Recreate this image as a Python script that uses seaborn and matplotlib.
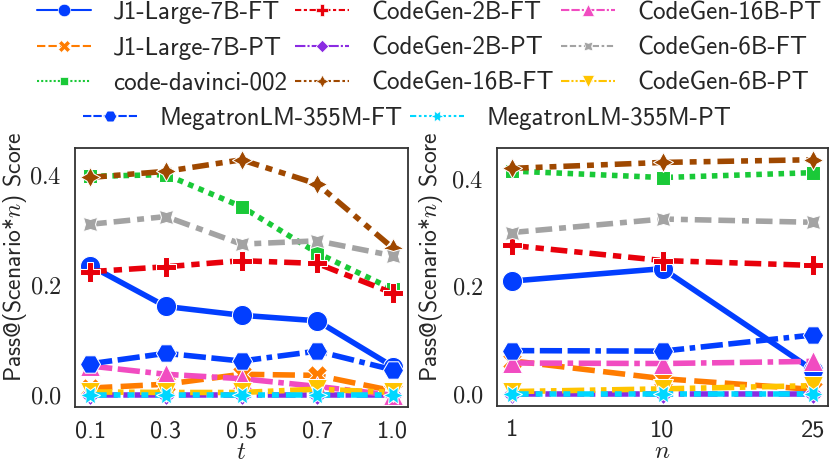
import matplotlib
matplotlib.use("Agg")
import matplotlib.pyplot as plt
import seaborn as sns
import pandas as pd
from matplotlib.lines import Line2D
from matplotlib.ticker import FuncFormatter

# ---------------- data ----------------
models = ["J1-Large-7B-FT", "J1-Large-7B-PT", "code-davinci-002",
          "CodeGen-2B-FT", "CodeGen-2B-PT", "CodeGen-16B-FT",
          "CodeGen-16B-PT", "CodeGen-6B-FT", "CodeGen-6B-PT",
          "MegatronLM-355M-PT", "MegatronLM-355M-FT"]

t_labels = ["0.1", "0.3", "0.5", "0.7", "1.0"]
n_labels = ["1", "10", "25"]

# Pass@(Scenario*n) score vs temperature t
t_j1_ft = [0.235, 0.161, 0.145, 0.135, 0.052]
t_j1_pt = [0.013, 0.020, 0.038, 0.036, 0.008]
t_davinci = [0.397, 0.400, 0.342, 0.258, 0.192]
t_cg2b_ft = [0.224, 0.233, 0.244, 0.239, 0.185]
t_cg2b_pt = [0.000, 0.000, 0.000, 0.000, 0.000]
t_cg16b_ft = [0.395, 0.406, 0.427, 0.383, 0.267]
t_cg16b_pt = [0.053, 0.038, 0.030, 0.016, 0.000]
t_cg6b_ft = [0.310, 0.324, 0.274, 0.280, 0.253]
t_cg6b_pt = [0.006, 0.005, 0.005, 0.011, 0.005]
t_meg_pt = [0.000, 0.000, 0.000, 0.000, 0.000]
t_meg_ft = [0.057, 0.076, 0.062, 0.080, 0.046]

# Pass@(Scenario*n) score vs number of samples n
n_j1_ft = [0.210, 0.233, 0.045]
n_j1_pt = [0.062, 0.029, 0.009]
n_davinci = [0.414, 0.402, 0.411]
n_cg2b_ft = [0.276, 0.248, 0.239]
n_cg2b_pt = [0.000, 0.000, 0.000]
n_cg16b_ft = [0.419, 0.430, 0.435]
n_cg16b_pt = [0.058, 0.057, 0.061]
n_cg6b_ft = [0.300, 0.325, 0.319]
n_cg6b_pt = [0.005, 0.010, 0.016]
n_meg_pt = [0.000, 0.000, 0.000]
n_meg_ft = [0.081, 0.080, 0.110]

y_ticks = [0.0, 0.2, 0.4]

t_series = [t_j1_ft, t_j1_pt, t_davinci, t_cg2b_ft, t_cg2b_pt, t_cg16b_ft,
            t_cg16b_pt, t_cg6b_ft, t_cg6b_pt, t_meg_pt, t_meg_ft]
n_series = [n_j1_ft, n_j1_pt, n_davinci, n_cg2b_ft, n_cg2b_pt, n_cg16b_ft,
            n_cg16b_pt, n_cg6b_ft, n_cg6b_pt, n_meg_pt, n_meg_ft]

df_t = pd.DataFrame([(m, x, v) for m, vals in zip(models, t_series)
                     for x, v in zip(t_labels, vals)],
                    columns=["model", "t", "score"])
df_n = pd.DataFrame([(m, x, v) for m, vals in zip(models, n_series)
                     for x, v in zip(n_labels, vals)],
                    columns=["model", "n", "score"])

# ---------------- style ----------------
sns.set_style("white")
plt.rcParams["font.family"] = ["cmss10", "DejaVu Sans"]
plt.rcParams["mathtext.fontset"] = "cm"
plt.rcParams["axes.unicode_minus"] = False
plt.rcParams["axes.formatter.use_mathtext"] = True

palette = dict(zip(models, sns.color_palette("bright", len(models))))
marker_list = ["o", "X", (4, 0, 45), "P", (4, 0, 0), (4, 1, 0), "^",
               (4, 1, 45), "v", (6, 1, 30), (6, 0, 30)]
dash_list = ["", (4, 1.5), (1, 1), (3, 1.25, 1.5, 1.25), (5, 1, 1, 1),
             (3, 1.25, 1.25, 1.25, 1.25, 1.25), (4, 1, 4, 1, 1, 1),
             (3, 1.25, 3, 1.25, 1.25, 1.25), (4, 1, 1, 1, 1, 1),
             (3, 1.25, 1.25, 1.25, 1.25, 1.25, 1.25, 1.25),
             (4, 1, 4, 1, 4, 1, 1, 1)]
markers = dict(zip(models, marker_list))
dashes = dict(zip(models, dash_list))

FS = 17.5
fig = plt.figure(figsize=(8.3, 4.66), dpi=100)
ax1 = fig.add_axes([75 / 830, 59 / 466, 333 / 830, 259 / 466])
ax2 = fig.add_axes([497 / 830, 60 / 466, 331 / 830, 258 / 466])

for ax, df, xcol, xlab, lab_x in [(ax1, df_t, "t", "$t$", (29 - 75) / 333),
                                  (ax2, df_n, "n", "$n$", (445 - 497) / 331)]:
    sns.lineplot(data=df, x=xcol, y="score", hue="model", style="model",
                 hue_order=models, style_order=models, palette=palette,
                 markers=markers, dashes=dashes, linewidth=4, markersize=14.5,
                 errorbar=None, legend=False, ax=ax)
    ax.set_yticks(y_ticks)
    ax.yaxis.set_major_formatter(FuncFormatter(lambda v, p: f"${v:.1f}$"))
    ax.tick_params(axis="both", labelsize=FS, pad=6)
    ax.set_xlabel(xlab, fontsize=18, labelpad=-1)
    ax.set_ylabel("Pass@(Scenario*$n$) Score", fontsize=17)
    ax.yaxis.set_label_coords(lab_x, 150 / 259)
    for sp in ax.spines.values():
        sp.set_linewidth(1.3)
        sp.set_color("0.2")


def handle(m):
    return Line2D([], [], color=palette[m], lw=1.5,
                  dashes=dashes[m] if dashes[m] else (None, None),
                  linestyle="-", marker=markers[m], markersize=9,
                  markeredgecolor="w", markeredgewidth=0.5)


main_order = ["J1-Large-7B-FT", "J1-Large-7B-PT", "code-davinci-002",
              "CodeGen-2B-FT", "CodeGen-2B-PT", "CodeGen-16B-FT",
              "CodeGen-16B-PT", "CodeGen-6B-FT", "CodeGen-6B-PT"]
extra_order = ["MegatronLM-355M-FT", "MegatronLM-355M-PT"]

leg_kw = dict(frameon=False, fontsize=18, handlelength=2.15, handletextpad=0.9,
              columnspacing=0.3, labelspacing=0.5, borderpad=0, borderaxespad=0)
leg1 = fig.legend([handle(m) for m in main_order], main_order, ncol=3,
                  loc="upper left", bbox_to_anchor=(37 / 830, 1 - 1 / 466), **leg_kw)
leg2 = fig.legend([handle(m) for m in extra_order], extra_order, ncol=2,
                  loc="upper left", bbox_to_anchor=(83 / 830, 1 - 107 / 466), **leg_kw)

fig.savefig("out.png", dpi=100)
